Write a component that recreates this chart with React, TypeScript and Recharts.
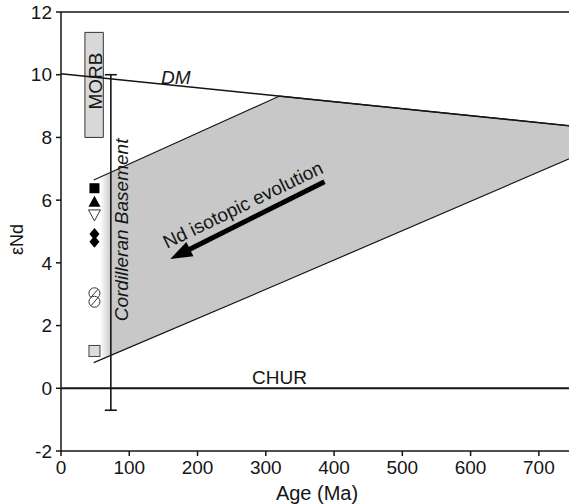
import {
  ComposedChart,
  XAxis,
  YAxis,
  Line,
  Area,
  Scatter,
  ReferenceLine,
  ReferenceArea,
  ReferenceDot,
} from 'recharts';

const FONT = '"Liberation Sans", Arial, Helvetica, sans-serif';
const INK = '#151515';

// axes
const ageTicks = [0, 100, 200, 300, 400, 500, 600, 700];
const endTicks = [-2, 0, 2, 4, 6, 8, 10, 12];

// depleted mantle evolution line
const dmLine = [
  { x: 0, y: 10.03 },
  { x: 750, y: 8.36 },
];

// grey Nd evolution field: [lower, upper] eNd at each age
const evolutionField = [
  { x: 48, range: [0.82, 6.64] },
  { x: 320, range: [3.34, 9.32] },
  { x: 750, range: [7.37, 8.36] },
];

// MORB range box
const morbAge = [35, 62];
const morbNd = [8.0, 11.35];

// Cordilleran basement range bar
const basementAge = 73;
const basementNd = [-0.7, 10.0];

// samples
const filledSquare = [{ x: 49, y: 6.38 }];
const filledTriangle = [{ x: 49, y: 5.95 }];
const openTriangleDown = [{ x: 49, y: 5.53 }];
const filledDiamond = [
  { x: 49, y: 4.92 },
  { x: 49, y: 4.67 },
];
const slashedCircle = [
  { x: 49, y: 3.03 },
  { x: 49, y: 2.76 },
];
const greySquare = [{ x: 49, y: 1.19 }];

// arrow (tail -> head)
const arrowPath = [
  { x: 386, y: 6.59 },
  { x: 160, y: 4.12 },
];

const note =
  (text: string, angle = 0, italic = false, size = 19) =>
  (p: any) => (
    <text
      x={p.cx}
      y={p.cy}
      transform={angle ? `rotate(${angle} ${p.cx} ${p.cy})` : undefined}
      textAnchor="middle"
      dominantBaseline="central"
      fontSize={size}
      fontStyle={italic ? 'italic' : 'normal'}
      fontFamily={FONT}
      fill={INK}
    >
      {text}
    </text>
  );

const Arrow = (p: any) => {
  const { x1, y1, x2, y2 } = p;
  const dx = x2 - x1;
  const dy = y2 - y1;
  const len = Math.hypot(dx, dy);
  const ux = dx / len;
  const uy = dy / len;
  const hl = 22;
  const hw = 8;
  const bx = x2 - ux * hl;
  const by = y2 - uy * hl;
  return (
    <g>
      <line x1={x1} y1={y1} x2={bx + ux * 3} y2={by + uy * 3} stroke="#000" strokeWidth={5} />
      <polygon
        points={`${x2},${y2} ${bx - uy * hw},${by + ux * hw} ${bx + uy * hw},${by - ux * hw}`}
        fill="#000"
      />
    </g>
  );
};

const RangeBar = (p: any) => {
  const { x1, y1, y2 } = p;
  return (
    <g stroke={INK} strokeWidth={1.6}>
      <line x1={x1} y1={y1} x2={x1} y2={y2} />
      <line x1={x1 - 6} y1={y1} x2={x1 + 6} y2={y1} />
      <line x1={x1 - 6} y1={y2} x2={x1 + 6} y2={y2} />
    </g>
  );
};

const SquareShape = (p: any) => (
  <rect x={p.cx - 5} y={p.cy - 5} width={10} height={10} fill="#000" />
);
const TriangleUp = (p: any) => (
  <polygon points={`${p.cx},${p.cy - 6} ${p.cx - 6},${p.cy + 5} ${p.cx + 6},${p.cy + 5}`} fill="#000" />
);
const TriangleDown = (p: any) => (
  <polygon
    points={`${p.cx - 6},${p.cy - 5} ${p.cx + 6},${p.cy - 5} ${p.cx},${p.cy + 6}`}
    fill="#fff"
    stroke="#333"
    strokeWidth={1}
  />
);
const DiamondShape = (p: any) => (
  <polygon points={`${p.cx},${p.cy - 6} ${p.cx + 5},${p.cy} ${p.cx},${p.cy + 6} ${p.cx - 5},${p.cy}`} fill="#000" />
);
const SlashCircle = (p: any) => (
  <g fill="none" stroke="#333" strokeWidth={1}>
    <circle cx={p.cx} cy={p.cy} r={5.5} fill="#fff" />
    <line x1={p.cx - 3.5} y1={p.cy + 4} x2={p.cx + 3.5} y2={p.cy - 4} />
  </g>
);
const GreySquare = (p: any) => (
  <rect x={p.cx - 5.5} y={p.cy - 5.5} width={11} height={11} fill="#dcdcdc" stroke="#444" strokeWidth={1} />
);

export default function App() {
  return (
    <div
      style={{
        position: 'absolute',
        left: 0,
        top: 0,
        width: 569,
        height: 504,
        overflow: 'hidden',
        background: '#fff',
      }}
    >
      <ComposedChart width={573} height={504} margin={{ top: 12, right: 0, bottom: 0, left: 0 }}>
        <defs>
          <linearGradient id="fieldFade" x1="0" y1="0" x2="1" y2="0">
            <stop offset="0" stopColor="#ffffff" />
            <stop offset="0.013" stopColor="#ffffff" />
            <stop offset="0.037" stopColor="#c8c8c8" />
            <stop offset="1" stopColor="#c8c8c8" />
          </linearGradient>
        </defs>
        <XAxis
          dataKey="x"
          type="number"
          domain={[0, 750]}
          ticks={ageTicks}
          height={53}
          tickSize={5}
          tickMargin={5}
          interval={0}
          stroke={INK}
          strokeWidth={1.5}
          tick={{ fill: INK, fontSize: 19, fontFamily: FONT }}
          label={{
            value: 'Age (Ma)',
            position: 'insideBottom',
            offset: 4,
            style: { fill: INK, fontSize: 20, fontFamily: FONT },
          }}
        />
        <YAxis
          type="number"
          domain={[-2, 12]}
          ticks={endTicks}
          width={61}
          tickSize={5}
          tickMargin={4}
          interval={0}
          stroke={INK}
          strokeWidth={1.5}
          tick={{ fill: INK, fontSize: 19, fontFamily: FONT }}
          label={{
            value: 'εNd',
            angle: -90,
            position: 'center',
            dx: -14,
            dy: 8,
            style: { fill: INK, fontSize: 18, fontFamily: FONT },
          }}
        />

        <Area
          data={evolutionField}
          dataKey="range"
          type="linear"
          stroke={INK}
          strokeWidth={1.2}
          fill="url(#fieldFade)"
          fillOpacity={1}
          dot={false}
          activeDot={false}
          isAnimationActive={false}
        />
        <Line
          data={dmLine}
          dataKey="y"
          type="linear"
          stroke={INK}
          strokeWidth={1.4}
          dot={false}
          activeDot={false}
          isAnimationActive={false}
        />

        <ReferenceLine y={0} stroke={INK} strokeWidth={2} />
        <ReferenceLine y={12} stroke={INK} strokeWidth={1.5} />

        <ReferenceArea
          x1={morbAge[0]}
          x2={morbAge[1]}
          y1={morbNd[0]}
          y2={morbNd[1]}
          fill="#d8d8d8"
          fillOpacity={1}
          stroke="#333"
          strokeWidth={1}
        />
        <ReferenceLine
          segment={[
            { x: basementAge, y: basementNd[1] },
            { x: basementAge, y: basementNd[0] },
          ]}
          shape={RangeBar}
        />
        <ReferenceLine segment={arrowPath} shape={Arrow} />

        <Scatter data={filledSquare} dataKey="y" shape={SquareShape} isAnimationActive={false} />
        <Scatter data={filledTriangle} dataKey="y" shape={TriangleUp} isAnimationActive={false} />
        <Scatter data={openTriangleDown} dataKey="y" shape={TriangleDown} isAnimationActive={false} />
        <Scatter data={filledDiamond} dataKey="y" shape={DiamondShape} isAnimationActive={false} />
        <Scatter data={slashedCircle} dataKey="y" shape={SlashCircle} isAnimationActive={false} />
        <Scatter data={greySquare} dataKey="y" shape={GreySquare} isAnimationActive={false} />

        <ReferenceDot x={50} y={9.8} r={1} shape={note('MORB', -90)} />
        <ReferenceDot x={88.6} y={5.05} r={1} shape={note('Cordilleran Basement', -90, true)} />
        <ReferenceDot x={168} y={9.9} r={1} shape={note('DM', 0, true)} />
        <ReferenceDot x={320} y={0.34} r={1} shape={note('CHUR')} />
        <ReferenceDot x={266.5} y={5.85} r={1} shape={note('Nd isotopic evolution', -26)} />
      </ComposedChart>
    </div>
  );
}
